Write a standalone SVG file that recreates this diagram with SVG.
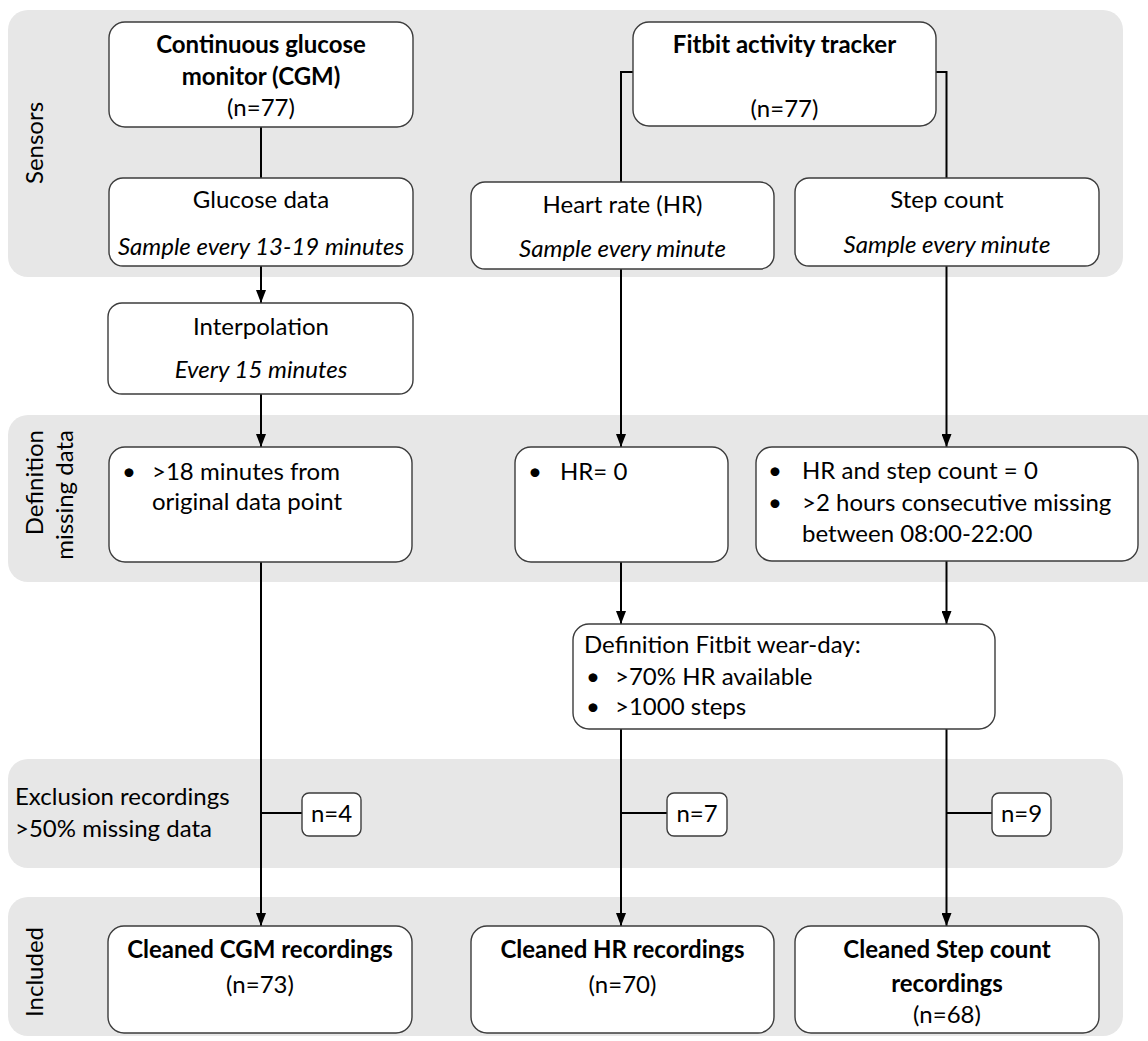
<svg xmlns="http://www.w3.org/2000/svg" width="1148" height="1041" viewBox="0 0 1148 1041">
<style>
.band{fill:#e7e7e7}
.box{fill:#fff;stroke:#3c3c3c;stroke-width:1.4}
.t{font-family:Lato,"Liberation Sans",sans-serif;font-size:24px;fill:#000}
.b{font-weight:bold}
.i{font-style:italic}
.c{text-anchor:middle}
.e{text-anchor:end}
.ln{stroke:#000;stroke-width:2;fill:none}
</style>
<defs>
<marker id="arr" viewBox="0 0 13 10" refX="13" refY="5" markerWidth="13" markerHeight="10" markerUnits="userSpaceOnUse" orient="auto">
<path d="M0,0 L13,5 L0,10 z" fill="#000"/>
</marker>
</defs>
<rect width="1148" height="1041" fill="#fff"/>
<g id="bands">
<rect class="band" x="8" y="10" width="1115" height="267" rx="20"/>
<rect class="band" x="8" y="415" width="1160" height="167" rx="20"/>
<rect class="band" x="8" y="759" width="1115" height="109" rx="20"/>
<rect class="band" x="8" y="897" width="1115" height="139" rx="20"/>
<text class="t c" transform="translate(43,143) rotate(-90)">Sensors</text>
<text class="t e" transform="translate(43,430) rotate(-90)">Definition</text>
<text class="t e" transform="translate(73,430) rotate(-90)">missing data</text>
<text class="t" x="15" y="805">Exclusion recordings</text>
<text class="t" x="15" y="837">&gt;50% missing data</text>
<text class="t c" transform="translate(43,972) rotate(-90)">Included</text>
</g>
<g id="connectors">
<line class="ln" x1="261" y1="127" x2="261" y2="178"/>
<polyline class="ln" points="633,72 621,72 621,182"/>
<polyline class="ln" points="936,72 946.5,72 946.5,178"/>
<line class="ln" x1="261" y1="266" x2="261" y2="303" marker-end="url(#arr)"/>
<line class="ln" x1="261" y1="394" x2="261" y2="447" marker-end="url(#arr)"/>
<line class="ln" x1="621" y1="269" x2="621" y2="447" marker-end="url(#arr)"/>
<line class="ln" x1="946.5" y1="266" x2="946.5" y2="447" marker-end="url(#arr)"/>
<line class="ln" x1="621" y1="562" x2="621" y2="624" marker-end="url(#arr)"/>
<line class="ln" x1="946.5" y1="561" x2="946.5" y2="624" marker-end="url(#arr)"/>
<line class="ln" x1="261" y1="562" x2="261" y2="926" marker-end="url(#arr)"/>
<line class="ln" x1="621" y1="729" x2="621" y2="926" marker-end="url(#arr)"/>
<line class="ln" x1="946.5" y1="729" x2="946.5" y2="926" marker-end="url(#arr)"/>
<line class="ln" x1="261" y1="813" x2="302" y2="813"/>
<line class="ln" x1="621" y1="813" x2="667" y2="813"/>
<line class="ln" x1="946.5" y1="813" x2="992" y2="813"/>
</g>
<g id="cgm">
<rect class="box" x="109" y="22" width="304" height="105" rx="16"/>
<text class="t b c" x="261" y="53">Continuous glucose</text>
<text class="t b c" x="261" y="85">monitor (CGM)</text>
<text class="t c" x="261" y="116">(n=77)</text>
</g>
<g id="fitbit">
<rect class="box" x="633" y="22" width="303" height="104" rx="16"/>
<text class="t b c" x="784.5" y="53">Fitbit activity tracker</text>
<text class="t c" x="784.5" y="117">(n=77)</text>
</g>
<g id="glucose-data">
<rect class="box" x="109" y="178" width="304" height="88" rx="14"/>
<text class="t c" x="261" y="208">Glucose data</text>
<text class="t i c" x="261" y="255">Sample every 13-19 minutes</text>
</g>
<g id="heart-rate">
<rect class="box" x="471" y="182" width="303" height="87" rx="14"/>
<text class="t c" x="622.5" y="213">Heart rate (HR)</text>
<text class="t i c" x="622.5" y="257">Sample every minute</text>
</g>
<g id="step-count">
<rect class="box" x="795" y="178" width="304" height="88" rx="14"/>
<text class="t c" x="947" y="208">Step count</text>
<text class="t i c" x="947" y="253">Sample every minute</text>
</g>
<g id="interpolation">
<rect class="box" x="108" y="303" width="305" height="91" rx="14"/>
<text class="t c" x="261" y="335">Interpolation</text>
<text class="t i c" x="261" y="378">Every 15 minutes</text>
</g>
<g id="missing-cgm">
<rect class="box" x="109" y="447" width="303" height="115" rx="16"/>
<text class="t" x="122" y="480">•</text>
<text class="t" x="152" y="480">&gt;18 minutes from</text>
<text class="t" x="152" y="510">original data point</text>
</g>
<g id="missing-hr">
<rect class="box" x="515" y="447" width="213" height="115" rx="16"/>
<text class="t" x="528" y="480">•</text>
<text class="t" x="560" y="480">HR= 0</text>
</g>
<g id="missing-steps">
<rect class="box" x="756" y="447" width="382" height="114" rx="16"/>
<text class="t" x="768" y="479">•</text>
<text class="t" x="802" y="479">HR and step count = 0</text>
<text class="t" x="768" y="511">•</text>
<text class="t" x="802" y="511">&gt;2 hours consecutive missing</text>
<text class="t" x="802" y="542">between 08:00-22:00</text>
</g>
<g id="wear-day">
<rect class="box" x="573" y="624" width="422" height="105" rx="16"/>
<text class="t" x="584" y="653">Definition Fitbit wear-day:</text>
<text class="t" x="586" y="685">•</text>
<text class="t" x="615" y="685">&gt;70% HR available</text>
<text class="t" x="586" y="715">•</text>
<text class="t" x="615" y="715">&gt;1000 steps</text>
</g>
<g id="excl-cgm">
<rect class="box" x="302" y="793" width="59" height="43" rx="7"/>
<text class="t c" x="331.5" y="822">n=4</text>
</g>
<g id="excl-hr">
<rect class="box" x="667" y="793" width="60" height="43" rx="7"/>
<text class="t c" x="697" y="822">n=7</text>
</g>
<g id="excl-steps">
<rect class="box" x="992" y="793" width="59" height="43" rx="7"/>
<text class="t c" x="1021.5" y="822">n=9</text>
</g>
<g id="clean-cgm">
<rect class="box" x="108" y="926" width="304" height="107" rx="16"/>
<text class="t b c" x="260" y="958">Cleaned CGM recordings</text>
<text class="t c" x="260" y="993">(n=73)</text>
</g>
<g id="clean-hr">
<rect class="box" x="471" y="926" width="303" height="107" rx="16"/>
<text class="t b c" x="622.5" y="958">Cleaned HR recordings</text>
<text class="t c" x="622.5" y="993">(n=70)</text>
</g>
<g id="clean-steps">
<rect class="box" x="795" y="926" width="304" height="107" rx="16"/>
<text class="t b c" x="947" y="958">Cleaned Step count</text>
<text class="t b c" x="947" y="992">recordings</text>
<text class="t c" x="947" y="1023">(n=68)</text>
</g>
</svg>
